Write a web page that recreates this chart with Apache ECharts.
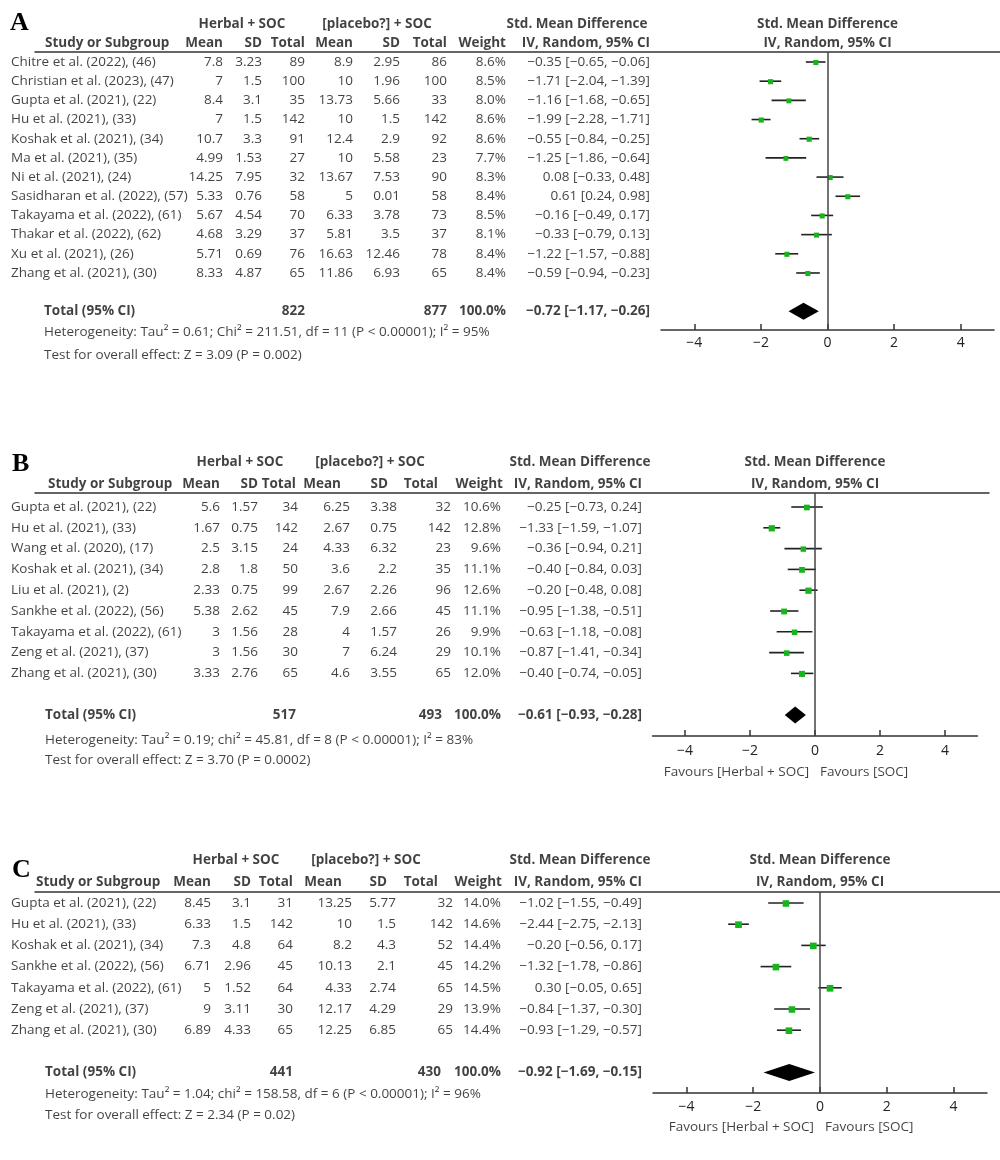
<!DOCTYPE html>
<html><head><meta charset="utf-8">
<script src="https://cdn.jsdelivr.net/npm/echarts@6/dist/echarts.min.js"></script>
<style>html,body{margin:0;padding:0;background:#fff}#chart{width:1000px;height:1160px}</style>
</head><body><div id="chart"></div>
<script>
// ---------- shared text ----------
const groupHeaders = ["Herbal + SOC", "[placebo?] + SOC", "Std. Mean Difference"];
const colHeaders = ["Mean", "SD", "Total", "Mean", "SD", "Total", "Weight", "IV, Random, 95% CI"];
const studyHeader = "Study or Subgroup";
const plotHeaders = ["Std. Mean Difference", "IV, Random, 95% CI"];
const totalLabel = "Total (95% CI)";
const favoursLabels = ["Favours [Herbal + SOC]", "Favours [SOC]"];
const tickValues = [-4, -2, 0, 2, 4];

// ---------- Panel A ----------
const aStudies = ["Chitre et al. (2022), (46)", "Christian et al. (2023), (47)", "Gupta et al. (2021), (22)", "Hu et al. (2021), (33)", "Koshak et al. (2021), (34)", "Ma et al. (2021), (35)", "Ni et al. (2021), (24)", "Sasidharan et al. (2022), (57)", "Takayama et al. (2022), (61)", "Thakar et al. (2022), (62)", "Xu et al. (2021), (26)", "Zhang et al. (2021), (30)"];
const aMean1 = [7.8, 7, 8.4, 7, 10.7, 4.99, 14.25, 5.33, 5.67, 4.68, 5.71, 8.33];
const aSd1 = [3.23, 1.5, 3.1, 1.5, 3.3, 1.53, 7.95, 0.76, 4.54, 3.29, 0.69, 4.87];
const aN1 = [89, 100, 35, 142, 91, 27, 32, 58, 70, 37, 76, 65];
const aMean2 = [8.9, 10, 13.73, 10, 12.4, 10, 13.67, 5, 6.33, 5.81, 16.63, 11.86];
const aSd2 = [2.95, 1.96, 5.66, 1.5, 2.9, 5.58, 7.53, 0.01, 3.78, 3.5, 12.46, 6.93];
const aN2 = [86, 100, 33, 142, 92, 23, 90, 58, 73, 37, 78, 65];
const aWeight = [8.6, 8.5, 8.0, 8.6, 8.6, 7.7, 8.3, 8.4, 8.5, 8.1, 8.4, 8.4];
const aSmd = [-0.35, -1.71, -1.16, -1.99, -0.55, -1.25, 0.08, 0.61, -0.16, -0.33, -1.22, -0.59];
const aLo = [-0.65, -2.04, -1.68, -2.28, -0.84, -1.86, -0.33, 0.24, -0.49, -0.79, -1.57, -0.94];
const aHi = [-0.06, -1.39, -0.65, -1.71, -0.25, -0.64, 0.48, 0.98, 0.17, 0.13, -0.88, -0.23];
const aTotalN = [822, 877];
const aTotalEffect = [-0.72, -1.17, -0.26];
const aHet = "Heterogeneity: Tau\u00b2 = 0.61; Chi\u00b2 = 211.51, df = 11 (P < 0.00001); I\u00b2 = 95%";
const aTest = "Test for overall effect: Z = 3.09 (P = 0.002)";

// ---------- Panel B ----------
const bStudies = ["Gupta et al. (2021), (22)", "Hu et al. (2021), (33)", "Wang et al. (2020), (17)", "Koshak et al. (2021), (34)", "Liu et al. (2021), (2)", "Sankhe et al. (2022), (56)", "Takayama et al. (2022), (61)", "Zeng et al. (2021), (37)", "Zhang et al. (2021), (30)"];
const bMean1 = [5.6, 1.67, 2.5, 2.8, 2.33, 5.38, 3, 3, 3.33];
const bSd1 = [1.57, 0.75, 3.15, 1.8, 0.75, 2.62, 1.56, 1.56, 2.76];
const bN1 = [34, 142, 24, 50, 99, 45, 28, 30, 65];
const bMean2 = [6.25, 2.67, 4.33, 3.6, 2.67, 7.9, 4, 7, 4.6];
const bSd2 = [3.38, 0.75, 6.32, 2.2, 2.26, 2.66, 1.57, 6.24, 3.55];
const bN2 = [32, 142, 23, 35, 96, 45, 26, 29, 65];
const bWeight = [10.6, 12.8, 9.6, 11.1, 12.6, 11.1, 9.9, 10.1, 12.0];
const bSmd = [-0.25, -1.33, -0.36, -0.40, -0.20, -0.95, -0.63, -0.87, -0.40];
const bLo = [-0.73, -1.59, -0.94, -0.84, -0.48, -1.38, -1.18, -1.41, -0.74];
const bHi = [0.24, -1.07, 0.21, 0.03, 0.08, -0.51, -0.08, -0.34, -0.05];
const bTotalN = [517, 493];
const bTotalEffect = [-0.61, -0.93, -0.28];
const bHet = "Heterogeneity: Tau\u00b2 = 0.19; chi\u00b2 = 45.81, df = 8 (P < 0.00001); I\u00b2 = 83%";
const bTest = "Test for overall effect: Z = 3.70 (P = 0.0002)";

// ---------- Panel C ----------
const cStudies = ["Gupta et al. (2021), (22)", "Hu et al. (2021), (33)", "Koshak et al. (2021), (34)", "Sankhe et al. (2022), (56)", "Takayama et al. (2022), (61)", "Zeng et al. (2021), (37)", "Zhang et al. (2021), (30)"];
const cMean1 = [8.45, 6.33, 7.3, 6.71, 5, 9, 6.89];
const cSd1 = [3.1, 1.5, 4.8, 2.96, 1.52, 3.11, 4.33];
const cN1 = [31, 142, 64, 45, 64, 30, 65];
const cMean2 = [13.25, 10, 8.2, 10.13, 4.33, 12.17, 12.25];
const cSd2 = [5.77, 1.5, 4.3, 2.1, 2.74, 4.29, 6.85];
const cN2 = [32, 142, 52, 45, 65, 29, 65];
const cWeight = [14.0, 14.6, 14.4, 14.2, 14.5, 13.9, 14.4];
const cSmd = [-1.02, -2.44, -0.20, -1.32, 0.30, -0.84, -0.93];
const cLo = [-1.55, -2.75, -0.56, -1.78, -0.05, -1.37, -1.29];
const cHi = [-0.49, -2.13, 0.17, -0.86, 0.65, -0.30, -0.57];
const cTotalN = [441, 430];
const cTotalEffect = [-0.92, -1.69, -0.15];
const cHet = "Heterogeneity: Tau\u00b2 = 1.04; chi\u00b2 = 158.58, df = 6 (P < 0.00001); I\u00b2 = 96%";
const cTest = "Test for overall effect: Z = 2.34 (P = 0.02)";

// ---------- layout (pixels / row slots) ----------
const layouts = [
  {letter: "A", lx: 10, ly: 10, top: 52, axisY: 330, row0: 62, step: 19.18, tableL: 35, lineR: 1000, plotL: 661, plotR: 994,
   cols: [11, 223, 262, 305, 353, 400, 447, 506, 650], hdrCols: [223, 262, 305, 353, 400, 447, 506, 650],
   totCols: [305, 447, 506, 650], groups: [242, 377, 577], studyHdrX: 45, totalX: 44,
   hdrRows: [-1.98, -0.99], footRows: [14.08, 15.28], favRow: null, labelMargin: 6},
  {letter: "B", lx: 12, ly: 451, top: 493, axisY: 736, row0: 507, step: 20.8, tableL: 35, lineR: 989, plotL: 652.5, plotR: 977.5,
   cols: [11, 220, 258, 298, 350, 397, 451, 501, 642], hdrCols: [220, 258, 296, 341, 388, 438, 503, 642],
   totCols: [296, 442, 501, 642], groups: [240, 370, 580], studyHdrX: 48, totalX: 45,
   hdrRows: [-2.16, -1.11], footRows: [11.2, 12.16], favRow: 12.75, labelMargin: 8},
  {letter: "C", lx: 12, ly: 857, top: 892, axisY: 1093, row0: 903, step: 21.2, tableL: 35, lineR: 1000, plotL: 653, plotR: 987,
   cols: [11, 211, 251, 293, 352, 396, 453, 501, 642], hdrCols: [211, 251, 293, 342, 387, 438, 502, 642],
   totCols: [293, 441, 501, 642], groups: [236, 366, 580], studyHdrX: 36, totalX: 45,
   hdrRows: [-2.03, -0.99], footRows: [9.0, 9.99], favRow: 10.55, labelMargin: 7}
];

const panels = [
  {studies: aStudies, m1: aMean1, s1: aSd1, n1: aN1, m2: aMean2, s2: aSd2, n2: aN2, w: aWeight, smd: aSmd, lo: aLo, hi: aHi, tn: aTotalN, te: aTotalEffect, het: aHet, test: aTest, fav: false},
  {studies: bStudies, m1: bMean1, s1: bSd1, n1: bN1, m2: bMean2, s2: bSd2, n2: bN2, w: bWeight, smd: bSmd, lo: bLo, hi: bHi, tn: bTotalN, te: bTotalEffect, het: bHet, test: bTest, fav: true},
  {studies: cStudies, m1: cMean1, s1: cSd1, n1: cN1, m2: cMean2, s2: cSd2, n2: cN2, w: cWeight, smd: cSmd, lo: cLo, hi: cHi, tn: cTotalN, te: cTotalEffect, het: cHet, test: cTest, fav: true}
];

const FONT = "'Open Sans', 'Noto Sans', sans-serif";
const FS = 13.5;
const TXT = '#111';
const fmt2 = v => (v < 0 ? '\u2212' : '') + Math.abs(v).toFixed(2);
const ciText = (e, l, h) => fmt2(e) + ' [' + fmt2(l) + ', ' + fmt2(h) + ']';
const tickFmt = v => (v < 0 ? '\u2212' + Math.abs(v) : String(v));

const grids = [], xAxes = [], yAxes = [], series = [], titles = [];

panels.forEach((p, i) => {
  const L = layouts[i];
  const yMin = (L.top - L.row0) / L.step;
  const yMax = (L.axisY - L.row0) / L.step;
  const H = L.axisY - L.top;
  const tg = 2 * i, pg = 2 * i + 1;

  titles.push({text: L.letter, left: L.lx, top: L.ly, padding: 0,
    textStyle: {fontFamily: "'Liberation Serif', 'DejaVu Serif', serif", fontWeight: 'bold', fontSize: 26, color: '#000'}});

  grids.push({left: L.tableL, width: L.lineR - L.tableL, top: L.top, height: H});
  grids.push({left: L.plotL, width: L.plotR - L.plotL, top: L.top, height: H});

  xAxes.push({type: 'value', gridIndex: tg, min: L.tableL, max: L.lineR, position: 'top',
    axisLine: {show: true, onZero: false, lineStyle: {color: '#333', width: 1.5}},
    axisTick: {show: false}, axisLabel: {show: false}, splitLine: {show: false}});
  xAxes.push({type: 'value', gridIndex: pg, min: -5, max: 5, position: 'bottom',
    axisLine: {show: true, onZero: false, lineStyle: {color: '#333', width: 1.5}},
    axisTick: {show: true, inside: true, length: 6, customValues: tickValues, lineStyle: {color: '#333', width: 1.5}},
    axisLabel: {show: true, customValues: tickValues, formatter: tickFmt, margin: L.labelMargin, fontFamily: FONT, fontSize: 14, color: '#222'},
    splitLine: {show: false}});
  yAxes.push({type: 'value', gridIndex: tg, min: yMin, max: yMax, inverse: true, show: false});
  yAxes.push({type: 'value', gridIndex: pg, min: yMin, max: yMax, inverse: true, show: false});

  // ---- table text cells ----
  const cells = [];
  const cell = (x, y, text, pos, bold) => cells.push({value: [x, y],
    label: {formatter: text, position: pos, fontWeight: bold ? 'bold' : 'normal'}});
  const C = L.cols;
  cell(L.groups[0], L.hdrRows[0], groupHeaders[0], 'inside', true);
  cell(L.groups[1], L.hdrRows[0], groupHeaders[1], 'inside', true);
  cell(L.groups[2], L.hdrRows[0], groupHeaders[2], 'inside', true);
  cell(L.studyHdrX, L.hdrRows[1], studyHeader, 'right', true);
  colHeaders.forEach((h, k) => cell(L.hdrCols[k], L.hdrRows[1], h, 'left', true));
  p.studies.forEach((s, k) => {
    cell(C[0], k, s, 'right', false);
    cell(C[1], k, String(p.m1[k]), 'left', false);
    cell(C[2], k, String(p.s1[k]), 'left', false);
    cell(C[3], k, String(p.n1[k]), 'left', false);
    cell(C[4], k, String(p.m2[k]), 'left', false);
    cell(C[5], k, String(p.s2[k]), 'left', false);
    cell(C[6], k, String(p.n2[k]), 'left', false);
    cell(C[7], k, p.w[k].toFixed(1) + '%', 'left', false);
    cell(C[8], k, ciText(p.smd[k], p.lo[k], p.hi[k]), 'left', false);
  });
  const tRow = p.studies.length + 1;
  const totalW = p.w.reduce((a, b) => a + b, 0);
  const T = L.totCols;
  cell(L.totalX, tRow, totalLabel, 'right', true);
  cell(T[0], tRow, String(p.tn[0]), 'left', true);
  cell(T[1], tRow, String(p.tn[1]), 'left', true);
  cell(T[2], tRow, (Math.round(totalW / 10) * 10).toFixed(1) + '%', 'left', true);
  cell(T[3], tRow, ciText(p.te[0], p.te[1], p.te[2]), 'left', true);
  cell(L.totalX, L.footRows[0], p.het, 'right', false);
  cell(L.totalX, L.footRows[1], p.test, 'right', false);

  series.push({type: 'scatter', xAxisIndex: tg, yAxisIndex: tg, symbolSize: 0.1, clip: false, silent: true,
    itemStyle: {color: 'rgba(0,0,0,0)'},
    label: {show: true, distance: 0, color: TXT, fontFamily: FONT, fontSize: FS},
    emphasis: {disabled: true}, data: cells, z: 5});

  // ---- plot header / favours text ----
  const pcells = [
    {value: [0, L.hdrRows[0]], label: {formatter: plotHeaders[0], position: 'inside', fontWeight: 'bold'}},
    {value: [0, L.hdrRows[1]], label: {formatter: plotHeaders[1], position: 'inside', fontWeight: 'bold'}}
  ];
  if (p.fav) {
    pcells.push({value: [-0.18, L.favRow], label: {formatter: favoursLabels[0], position: 'left', fontWeight: 'normal'}});
    pcells.push({value: [0.15, L.favRow], label: {formatter: favoursLabels[1], position: 'right', fontWeight: 'normal'}});
  }
  series.push({type: 'scatter', xAxisIndex: pg, yAxisIndex: pg, symbolSize: 0.1, clip: false, silent: true,
    itemStyle: {color: 'rgba(0,0,0,0)'},
    label: {show: true, distance: 0, color: TXT, fontFamily: FONT, fontSize: FS},
    emphasis: {disabled: true}, data: pcells, z: 5});

  // ---- CI lines + squares ----
  series.push({type: 'custom', xAxisIndex: pg, yAxisIndex: pg, clip: false, silent: true,
    data: p.studies.map((s, k) => [k, p.smd[k], p.lo[k], p.hi[k], p.w[k]]),
    encode: {x: [1, 2, 3], y: 0},
    renderItem: (params, api) => {
      const y = api.value(0);
      const pe = api.coord([api.value(1), y]);
      const pl = api.coord([api.value(2), y]);
      const ph = api.coord([api.value(3), y]);
      const s = 1.75 * Math.sqrt(api.value(4));
      return {type: 'group', children: [
        {type: 'line', shape: {x1: pl[0], y1: pl[1], x2: ph[0], y2: ph[1]}, style: {stroke: '#222', lineWidth: 1.6}},
        {type: 'rect', shape: {x: pe[0] - s / 2, y: pe[1] - s / 2 + 0.5, width: s, height: s}, style: {fill: '#17b51c'}}
      ]};
    },
    markLine: {silent: true, symbol: 'none', label: {show: false}, animation: false,
      lineStyle: {color: '#444', width: 1.5, type: 'solid'}, data: [{xAxis: 0}]},
    z: 3});

  // ---- total diamond ----
  series.push({type: 'custom', xAxisIndex: pg, yAxisIndex: pg, clip: false, silent: true,
    data: [[tRow, p.te[0], p.te[1], p.te[2]]],
    encode: {x: [1, 2, 3], y: 0},
    renderItem: (params, api) => {
      const y = api.value(0);
      const pe = api.coord([api.value(1), y]);
      const pl = api.coord([api.value(2), y]);
      const ph = api.coord([api.value(3), y]);
      const h = 8.5;
      return {type: 'polygon', shape: {points: [[pl[0], pl[1]], [pe[0], pe[1] - h], [ph[0], ph[1]], [pe[0], pe[1] + h]]},
        style: {fill: '#000'}};
    }, z: 4});
});

const chart = echarts.init(document.getElementById('chart'), null, {renderer: 'canvas'});
chart.setOption({
  animation: false,
  backgroundColor: '#fff',
  title: titles,
  grid: grids,
  xAxis: xAxes,
  yAxis: yAxes,
  series: series
});
</script>
</body></html>
